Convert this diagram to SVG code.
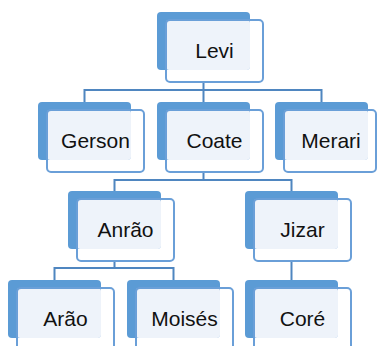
<svg xmlns="http://www.w3.org/2000/svg" width="377" height="346" viewBox="0 0 377 346">
<style>
.back{fill:#5B9BD5}
.light{fill:#EEF3FA}
.front{fill:none;stroke:#6A9FD8;stroke-width:2}
.lbl{font-family:"Liberation Sans",Arial,sans-serif;font-size:21px;fill:#111;text-anchor:middle}
.conn{fill:none;stroke:#4F86C0;stroke-width:2}
</style>
<rect width="377" height="346" fill="#fff"/>
<g id="connectors">
<path class="conn" d="M203.5,82V90M84.5,102V90H321.5V102M203.5,90V102"/>
<path class="conn" d="M203.5,172V180M114.5,191V180H291.5V191"/>
<path class="conn" d="M114.5,261V268M54.5,280V268H173.5V280"/>
<path class="conn" d="M291.5,261V280"/>
</g>
<g id="levi" transform="translate(157,12)"><rect class="back" width="93" height="58" rx="4"/><rect class="light" x="9" y="8" width="84" height="50" rx="3"/><rect class="front" x="9" y="8" width="97" height="62" rx="4"/><text class="lbl" x="57.5" y="46">Levi</text></g>
<g id="gerson" transform="translate(38,102)"><rect class="back" width="93" height="58" rx="4"/><rect class="light" x="9" y="8" width="84" height="50" rx="3"/><rect class="front" x="9" y="8" width="97" height="62" rx="4"/><text class="lbl" x="57.5" y="46">Gerson</text></g>
<g id="coate" transform="translate(157,102)"><rect class="back" width="93" height="58" rx="4"/><rect class="light" x="9" y="8" width="84" height="50" rx="3"/><rect class="front" x="9" y="8" width="97" height="62" rx="4"/><text class="lbl" x="57.5" y="46">Coate</text></g>
<g id="merari" transform="translate(275,102)"><rect class="back" width="93" height="58" rx="4"/><rect class="light" x="9" y="8" width="84" height="50" rx="3"/><rect class="front" x="9" y="8" width="92" height="62" rx="4"/><text class="lbl" x="56" y="46">Merari</text></g>
<g id="anrao" transform="translate(68,191)"><rect class="back" width="93" height="58" rx="4"/><rect class="light" x="9" y="8" width="84" height="50" rx="3"/><rect class="front" x="9" y="8" width="97" height="62" rx="4"/><text class="lbl" x="57.5" y="46">Anrão</text></g>
<g id="jizar" transform="translate(245,191)"><rect class="back" width="93" height="58" rx="4"/><rect class="light" x="9" y="8" width="84" height="50" rx="3"/><rect class="front" x="9" y="8" width="97" height="62" rx="4"/><text class="lbl" x="57.5" y="46">Jizar</text></g>
<g id="arao" transform="translate(8,280)"><rect class="back" width="93" height="58" rx="4"/><rect class="light" x="9" y="8" width="84" height="50" rx="3"/><rect class="front" x="9" y="8" width="97" height="62" rx="4"/><text class="lbl" x="57.5" y="46">Arão</text></g>
<g id="moises" transform="translate(127,280)"><rect class="back" width="93" height="58" rx="4"/><rect class="light" x="9" y="8" width="84" height="50" rx="3"/><rect class="front" x="9" y="8" width="97" height="62" rx="4"/><text class="lbl" x="57.5" y="46">Moisés</text></g>
<g id="core" transform="translate(245,280)"><rect class="back" width="93" height="58" rx="4"/><rect class="light" x="9" y="8" width="84" height="50" rx="3"/><rect class="front" x="9" y="8" width="97" height="62" rx="4"/><text class="lbl" x="57.5" y="46">Coré</text></g>
</svg>
